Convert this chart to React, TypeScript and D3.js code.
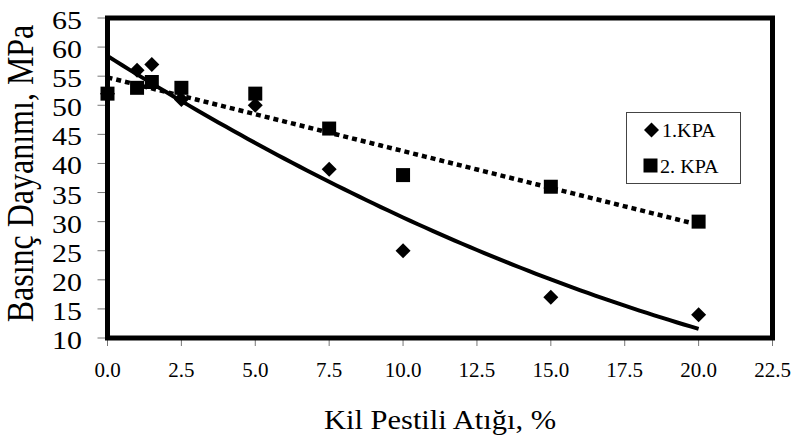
import * as d3 from "d3";
import { useEffect, useRef } from "react";

// clay paste waste ratio (%)
const kpa1X = [0, 1, 1.5, 2.5, 5, 7.5, 10, 15, 20];
const kpa1Y = [52, 56, 57, 51, 50, 39, 25, 17, 14];
const kpa2X = [0, 1, 1.5, 2.5, 5, 7.5, 10, 15, 20];
const kpa2Y = [52, 53, 54, 53, 52, 46, 38, 36, 30];
const xTicks = [0, 2.5, 5, 7.5, 10, 12.5, 15, 17.5, 20, 22.5];
const yTicks = [10, 15, 20, 25, 30, 35, 40, 45, 50, 55, 60, 65];
const legendLabels = ["1.KPA", "2. KPA"];

// least squares polynomial fit (normal equations)
function polyFit(xs: number[], ys: number[], deg: number) {
  const n = deg + 1;
  const A: number[][] = [];
  for (let i = 0; i < n; i++) {
    const row: number[] = [];
    for (let j = 0; j < n; j++) row.push(d3.sum(xs, (x) => Math.pow(x, i + j)));
    row.push(d3.sum(xs, (x, k) => Math.pow(x, i) * ys[k]));
    A.push(row);
  }
  for (let c = 0; c < n; c++) {
    for (let r = c + 1; r < n; r++) {
      const f = A[r][c] / A[c][c];
      for (let k = c; k <= n; k++) A[r][k] -= f * A[c][k];
    }
  }
  const coef = new Array(n).fill(0);
  for (let r = n - 1; r >= 0; r--) {
    let s = A[r][n];
    for (let k = r + 1; k < n; k++) s -= A[r][k] * coef[k];
    coef[r] = s / A[r][r];
  }
  return (x: number) => coef.reduce((acc, c, i) => acc + c * Math.pow(x, i), 0);
}

export default function App() {
  const ref = useRef<SVGSVGElement>(null);

  useEffect(() => {
    document.body.style.margin = "0";
    const width = 791;
    const height = 435;
    const margin = { top: 18, right: 18.5, bottom: 97, left: 107.5 };
    const font = "'Liberation Serif', 'Times New Roman', serif";

    const svg = d3.select(ref.current);
    svg.selectAll("*").remove();
    svg.attr("width", width).attr("height", height);

    const x = d3.scaleLinear()
      .domain([0, 22.5])
      .range([margin.left, width - margin.right]);

    const y = d3.scaleLinear()
      .domain([10, 65])
      .range([height - margin.bottom, margin.top]);

    // tick marks
    svg.append("g")
      .selectAll("line")
      .data(yTicks)
      .join("line")
      .attr("x1", x(0) - 10)
      .attr("x2", x(0))
      .attr("y1", (d) => y(d))
      .attr("y2", (d) => y(d))
      .attr("stroke", "#777")
      .attr("stroke-width", 1);

    svg.append("g")
      .selectAll("line")
      .data(xTicks)
      .join("line")
      .attr("x1", (d) => x(d))
      .attr("x2", (d) => x(d))
      .attr("y1", y(10))
      .attr("y2", y(10) + 8)
      .attr("stroke", "#777")
      .attr("stroke-width", 1);

    // tick labels
    svg.append("g")
      .selectAll("text")
      .data(yTicks)
      .join("text")
      .attr("transform", (d) => `translate(82,${y(d) + 11}) scale(1.15,1)`)
      .attr("text-anchor", "end")
      .attr("font-family", font)
      .attr("font-size", 26)
      .text((d) => d);

    svg.append("g")
      .selectAll("text")
      .data(xTicks)
      .join("text")
      .attr("x", (d) => x(d))
      .attr("y", 377)
      .attr("text-anchor", "middle")
      .attr("font-family", font)
      .attr("font-size", 21)
      .text((d) => d.toFixed(1));

    // axis titles
    svg.append("text")
      .attr("transform", "translate(440,429) scale(1.13,1)")
      .attr("text-anchor", "middle")
      .attr("font-family", font)
      .attr("font-size", 27)
      .text("Kil Pestili Atığı, %");

    svg.append("text")
      .attr("transform", "translate(33,173.5) scale(1.18,1) rotate(-90)")
      .attr("text-anchor", "middle")
      .attr("font-family", font)
      .attr("font-size", 32)
      .text("Basınç Dayanımı, MPa");

    // markers
    const diamond = (s: number) => `M0,${-s}L${s},0L0,${s}L${-s},0Z`;
    const square = (s: number) => `M${-s},${-s}H${s}V${s}H${-s}Z`;

    svg.append("g")
      .selectAll("path")
      .data(kpa1X.map((v, i) => [v, kpa1Y[i]]))
      .join("path")
      .attr("transform", (d) => `translate(${x(d[0])},${y(d[1])})`)
      .attr("d", diamond(7.5))
      .attr("fill", "#000");

    svg.append("g")
      .selectAll("path")
      .data(kpa2X.map((v, i) => [v, kpa2Y[i]]))
      .join("path")
      .attr("transform", (d) => `translate(${x(d[0])},${y(d[1])})`)
      .attr("d", square(7))
      .attr("fill", "#000");

    // trendlines
    const fit1 = polyFit(kpa1X, kpa1Y, 2);
    const fit2 = polyFit(kpa2X, kpa2Y, 1);
    const xs = d3.range(0, 20.001, 0.25);
    const line = d3.line<number>()
      .x((d) => x(d));

    svg.append("path")
      .attr("d", line.y((d) => y(fit1(d)))(xs))
      .attr("fill", "none")
      .attr("stroke", "#000")
      .attr("stroke-width", 4);

    svg.append("path")
      .attr("d", line.y((d) => y(fit2(d)))(xs))
      .attr("fill", "none")
      .attr("stroke", "#000")
      .attr("stroke-width", 4.5)
      .attr("stroke-dasharray", "5 4");

    // plot frame
    svg.append("rect")
      .attr("x", x(0))
      .attr("y", y(65))
      .attr("width", x(22.5) - x(0))
      .attr("height", y(10) - y(65))
      .attr("fill", "none")
      .attr("stroke", "#000")
      .attr("stroke-width", 5);

    // legend
    const lg = svg.append("g");
    lg.append("rect")
      .attr("x", 626.5)
      .attr("y", 112.5)
      .attr("width", 114)
      .attr("height", 71)
      .attr("fill", "#fff")
      .attr("stroke", "#444")
      .attr("stroke-width", 1);
    lg.append("path")
      .attr("transform", "translate(651.5,130)")
      .attr("d", diamond(7.5))
      .attr("fill", "#000");
    lg.append("path")
      .attr("transform", "translate(650.5,165.5)")
      .attr("d", square(7))
      .attr("fill", "#000");
    lg.selectAll("text.lbl")
      .data(legendLabels)
      .join("text")
      .attr("class", "lbl")
      .attr("transform", (d, i) => `translate(${i === 0 ? 662 : 660},${i === 0 ? 137 : 173}) scale(1.12,1)`)
      .attr("font-family", font)
      .attr("font-size", 18)
      .text((d) => d);
  }, []);

  return <svg ref={ref} style={{ display: "block" }}></svg>;
}
